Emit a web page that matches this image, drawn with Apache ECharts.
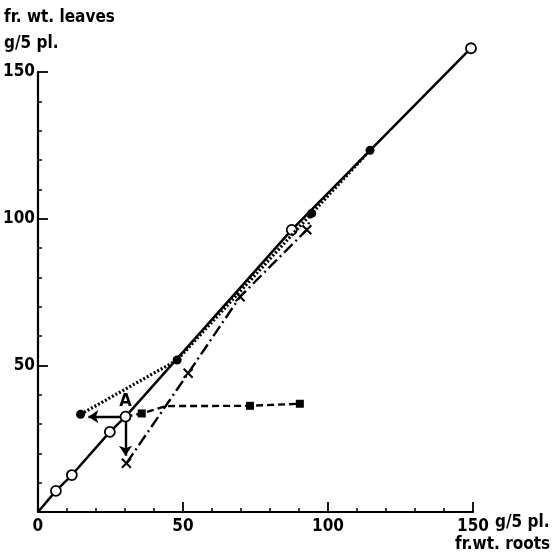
<!DOCTYPE html>
<html><head><meta charset="utf-8">
<script src="https://cdn.jsdelivr.net/npm/echarts@6/dist/echarts.min.js"></script>
<style>html,body{margin:0;padding:0;background:#fff}#c{width:555px;height:558px}</style>
</head><body><div id="c"></div>
<script>
// data values
const openCircles = [[0,0],[6.2,7.2],[11.7,12.6],[24.8,27.3],[30.2,32.5],[87.5,96.2],[149.3,158.1]];
const filledDots = [[14.7,33.3],[48,51.8],[94.4,101.8],[114.5,123.3]];
const squares = [[30.2,32.5],[35.8,33.6],[44,36.1],[73.1,36.2],[90.3,36.9]];
const crosses = [[30.5,16.6],[51.8,47.3],[69.7,73.4],[92.7,96.2],[94.4,101.8]];
const arrowLeft = [[30.2,32.5],[17.4,32.5]];
const arrowDown = [[30.2,32.5],[30.2,19.2]];
const pointA = [30.2,32.5];
const xTicks = [0,50,100,150];
const yTicks = [0,50,100,150];

const FONT = '"DejaVu Sans Condensed", "DejaVu Sans", sans-serif';
const chart = echarts.init(document.getElementById('c'), null, {renderer:'canvas'});
const crossPath = 'path://M0,0L10,10M10,0L0,10';
function hideIdx(arr, idxs){ return arr.map((p,i)=> idxs.includes(i) ? {value:p, symbol:'none'} : p); }

chart.setOption({
  animation:false,
  backgroundColor:'#fff',
  grid:{left:37, top:72, width:436, height:440},
  xAxis:{type:'value', min:0, max:150, interval:50,
    axisLine:{lineStyle:{color:'#000', width:2.2}},
    axisTick:{inside:true, length:10, lineStyle:{color:'#000', width:1.8}},
    minorTick:{show:true, splitNumber:5, length:4, lineStyle:{color:'#000', width:1.5}},
    splitLine:{show:false},
    axisLabel:{color:'#000', fontFamily:FONT, fontSize:17, fontWeight:'bold', margin:6,
      formatter:v=> xTicks.includes(v)? String(v):''}
  },
  yAxis:{type:'value', min:0, max:150, interval:50,
    axisLine:{lineStyle:{color:'#000', width:2.2}},
    axisTick:{inside:true, length:10, lineStyle:{color:'#000', width:1.8}},
    minorTick:{show:true, splitNumber:5, length:4, lineStyle:{color:'#000', width:1.5}},
    splitLine:{show:false},
    axisLabel:{color:'#000', fontFamily:FONT, fontSize:17, fontWeight:'bold', margin:3,
      formatter:v=> (yTicks.includes(v) && v!==0)? String(v):''}
  },
  series:[
    {type:'line', data:hideIdx(openCircles,[0]), clip:false, symbol:'circle', symbolSize:10,
      lineStyle:{color:'#000', width:2.5},
      itemStyle:{color:'#fff', borderColor:'#000', borderWidth:1.8}, z:3},
    {type:'line', data:filledDots, clip:false, symbol:'circle', symbolSize:9,
      lineStyle:{color:'#000', width:3.2, type:[2,2]},
      itemStyle:{color:'#000'}, z:4},
    {type:'line', data:hideIdx(squares,[0,2]), clip:false, symbol:'rect', symbolSize:8,
      lineStyle:{color:'#000', width:2.4, type:[7,4]},
      itemStyle:{color:'#000'}, z:3},
    {type:'line', data:hideIdx(crosses,[4]), clip:false, symbol:crossPath, symbolSize:9,
      lineStyle:{color:'#000', width:2.4, type:[12,4,2,4]},
      itemStyle:{color:'#000', borderColor:'#000', borderWidth:2}, z:3},
    {type:'lines', coordinateSystem:'cartesian2d', symbol:['none','arrow'], symbolSize:[0,10],
      lineStyle:{color:'#000', width:2.4, opacity:1}, z:2,
      data:[{coords:arrowLeft},{coords:arrowDown}]},
    {type:'scatter', data:[pointA], symbolSize:0, z:5, silent:true,
      itemStyle:{opacity:1},
      label:{show:true, formatter:'A', position:'top', distance:6, color:'#000', opacity:1,
        fontFamily:FONT, fontSize:18, fontWeight:'bold'}}
  ],
  graphic:[
    {type:'text', left:4, top:9, style:{text:'fr. wt. leaves', fill:'#000', font:'bold 17px '+FONT}},
    {type:'text', left:4, top:35, style:{text:'g/5 pl.', fill:'#000', font:'bold 17px '+FONT}},
    {type:'text', left:495, top:514, style:{text:'g/5 pl.', fill:'#000', font:'bold 17px '+FONT}},
    {type:'text', left:455, top:536, style:{text:'fr.wt. roots', fill:'#000', font:'bold 17px '+FONT}}
  ]
});
</script></body></html>
